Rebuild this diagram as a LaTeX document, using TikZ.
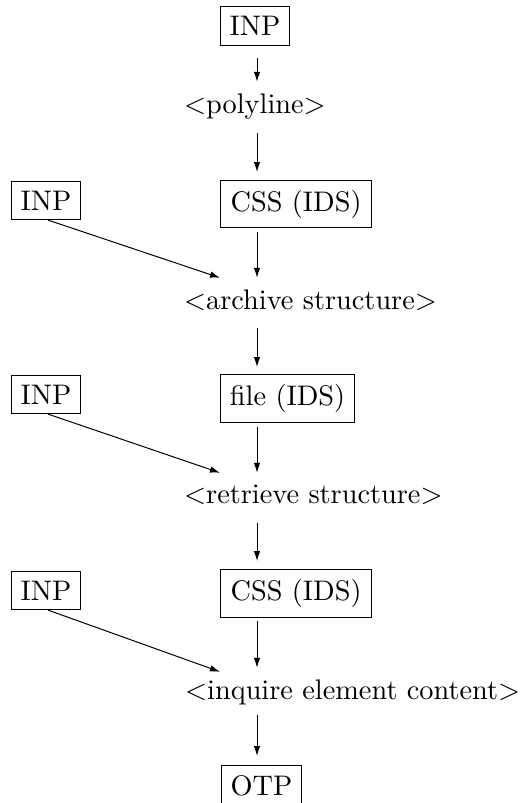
\documentclass[tikz,border=0pt]{standalone}
\usetikzlibrary{arrows.meta}
\newcommand\bigtxt[1]{\scalebox{2.83}{#1}}
\begin{document}
\begin{tikzpicture}[x=1pt,y=-1pt,
  boxnode/.style={draw,line width=1.1pt,inner sep=0pt,anchor=north west},
  txtnode/.style={inner sep=0pt,minimum height=44pt,anchor=west},
  arr/.style={line width=1pt,-{Latex[length=10pt,width=6.5pt]}},
]
\useasboundingbox (0,0) rectangle (524,803);
\coordinate (spine) at (257,0);
% main column
\node[boxnode,minimum width=69pt,minimum height=39pt] (inp0) at (220,6) {\bigtxt{INP}};
\node[txtnode] (poly) at (184,107) {\bigtxt{$<$polyline$>$}};
\node[boxnode,minimum width=151pt,minimum height=47pt] (cssA) at (220,180) {\bigtxt{CSS (IDS)}};
\node[txtnode] (arch) at (184,300) {\bigtxt{$<$archive structure$>$}};
\node[boxnode,minimum width=134pt,minimum height=48pt] (fileB) at (220,374) {\bigtxt{file (IDS)}};
\node[txtnode] (retr) at (184,495) {\bigtxt{$<$retrieve structure$>$}};
\node[boxnode,minimum width=151pt,minimum height=48pt] (cssC) at (220,569) {\bigtxt{CSS (IDS)}};
\node[txtnode] (inq) at (185,692) {\bigtxt{$<$inquire element content$>$}};
\node[boxnode,minimum width=80pt,minimum height=40pt] (otp) at (221,765) {\bigtxt{OTP}};
% left inputs
\node[boxnode,minimum width=69pt,minimum height=38pt] (inpA) at (11,181) {\bigtxt{INP}};
\node[boxnode,minimum width=69pt,minimum height=38pt] (inpB) at (11,375) {\bigtxt{INP}};
\node[boxnode,minimum width=69pt,minimum height=38pt] (inpC) at (11,571) {\bigtxt{INP}};
% vertical arrows
\draw[arr,shorten <=12pt,shorten >=3pt] (inp0.south -| spine) -- (poly.north -| spine);
\draw[arr,shorten <=4pt,shorten >=8pt] (poly.south -| spine) -- (cssA.north -| spine);
\draw[arr,shorten <=4pt] (cssA.south -| spine) -- (arch.north -| spine);
\draw[arr,shorten <=6pt,shorten >=7pt] (arch.south -| spine) -- (fileB.north -| spine);
\draw[arr,shorten <=4pt] (fileB.south -| spine) -- (retr.north -| spine);
\draw[arr,shorten <=6pt,shorten >=8pt] (retr.south -| spine) -- (cssC.north -| spine);
\draw[arr,shorten <=3pt,shorten >=2pt] (cssC.south -| spine) -- (inq.north -| spine);
\draw[arr,shorten <=1pt,shorten >=9pt] (inq.south -| spine) -- (otp.north -| spine);
% diagonal arrows
\draw[arr] ([xshift=2pt]inpA.south) -- (arch.north -| cssA.west);
\draw[arr] ([xshift=2pt]inpB.south) -- (retr.north -| fileB.west);
\draw[arr] ([xshift=2pt]inpC.south) -- ([yshift=-2pt]inq.north -| cssC.west);
\end{tikzpicture}
\end{document}
